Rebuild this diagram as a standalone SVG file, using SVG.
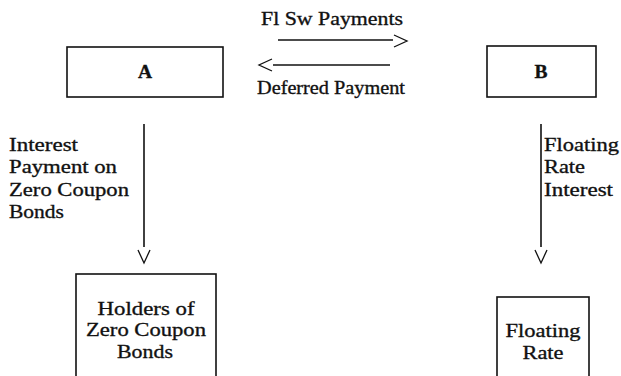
<svg xmlns="http://www.w3.org/2000/svg" width="621" height="376" viewBox="0 0 621 376">
<style>
.box{fill:none;stroke:#111;stroke-width:1.6}
.ln{fill:none;stroke:#111;stroke-width:1.6}
.hd{fill:none;stroke:#111;stroke-width:1.3}
text{font-family:"Liberation Serif","Times New Roman",serif;font-size:19.5px;fill:#111;stroke:#111;stroke-width:0.35}
.c{text-anchor:middle}
.b{font-weight:bold}
</style>
<rect width="621" height="376" fill="#fff"/>
<g id="nodeA"><rect class="box" x="67" y="47" width="156" height="50"/><text class="c b" x="145" y="78">A</text></g>
<g id="nodeB"><rect class="box" x="487" y="46" width="109" height="51"/><text class="c b" x="541" y="78">B</text></g>
<g id="nodeHolders"><rect class="box" x="76" y="274" width="140" height="110"/>
<text class="c" x="146" y="315" textLength="97" lengthAdjust="spacingAndGlyphs">Holders of</text>
<text class="c" x="146" y="336" textLength="120" lengthAdjust="spacingAndGlyphs">Zero Coupon</text>
<text class="c" x="145" y="358" textLength="56" lengthAdjust="spacingAndGlyphs">Bonds</text></g>
<g id="nodeFloating"><rect class="box" x="497" y="297" width="92" height="90"/>
<text class="c" x="543" y="337" textLength="75" lengthAdjust="spacingAndGlyphs">Floating</text>
<text class="c" x="543" y="359" textLength="41" lengthAdjust="spacingAndGlyphs">Rate</text></g>
<g id="connectors">
<line class="ln" x1="278" y1="40" x2="393" y2="40"/><polyline class="hd" points="394,35 407,41 394,47"/>
<text x="261" y="25" textLength="142" lengthAdjust="spacingAndGlyphs">Fl Sw Payments</text>
<line class="ln" x1="273" y1="65" x2="390" y2="65"/><polyline class="hd" points="272,59 259,65 272,71"/>
<text x="257" y="94" textLength="148" lengthAdjust="spacingAndGlyphs">Deferred Payment</text>
<line class="ln" x1="144" y1="124" x2="144" y2="247"/><polyline class="hd" points="138,250 144,263 150,250"/>
<text x="9" y="151" textLength="69" lengthAdjust="spacingAndGlyphs">Interest</text>
<text x="9" y="173" textLength="108" lengthAdjust="spacingAndGlyphs">Payment on</text>
<text x="9" y="196" textLength="120" lengthAdjust="spacingAndGlyphs">Zero Coupon</text>
<text x="9" y="218" textLength="55" lengthAdjust="spacingAndGlyphs">Bonds</text>
<line class="ln" x1="541" y1="124" x2="541" y2="247"/><polyline class="hd" points="535,250 541,263 547,250"/>
<text x="544" y="151" textLength="75" lengthAdjust="spacingAndGlyphs">Floating</text>
<text x="544" y="173" textLength="41" lengthAdjust="spacingAndGlyphs">Rate</text>
<text x="544" y="196" textLength="69" lengthAdjust="spacingAndGlyphs">Interest</text>
</g>
</svg>
